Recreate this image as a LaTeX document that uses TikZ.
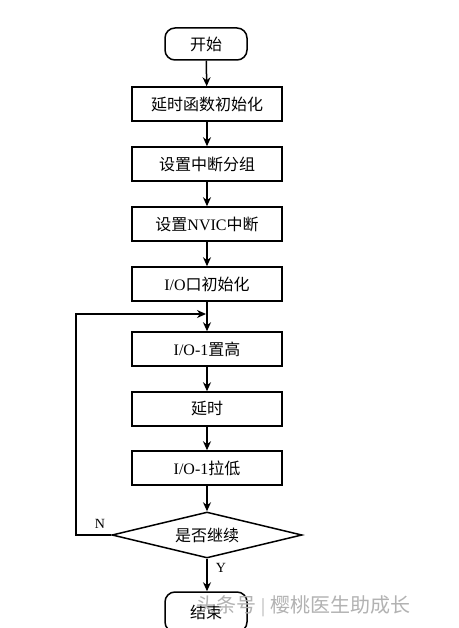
\documentclass[tikz,border=0pt]{standalone}
\usepackage{fontspec}
\setmainfont{Liberation Serif}
\newfontfamily\cjk{Noto Sans CJK SC}
\usetikzlibrary{shapes.geometric,arrows.meta}
\tikzset{
  base/.style={draw=black, line width=1.5pt, font=\fontsize{16}{18}\selectfont, inner sep=0pt},
  procbox/.style={base, rectangle, minimum width=150pt, minimum height=34pt},
  termbox/.style={base, rectangle, rounded corners=10pt, minimum width=82pt, minimum height=32pt},
  decbox/.style={base, diamond, aspect=4, minimum width=190pt, minimum height=46pt},
  arr/.style={line width=1.5pt, -{Stealth[length=9pt,width=8pt]}},
  lbl/.style={font=\fontsize{14}{16}\selectfont, inner sep=0pt},
}
\begin{document}
\begin{tikzpicture}[x=1pt,y=-1pt]
\useasboundingbox (0,0) rectangle (458,628);
\fill[white] (0,0) rectangle (458,628);
\clip (0,0) rectangle (458,628);
\node[termbox] (start) at (206,44) {\cjk 开始};
\node[procbox] (b1) at (207,104) {\cjk 延时函数初始化};
\node[procbox] (b2) at (207,164) {\cjk 设置中断分组};
\node[procbox] (b3) at (207,224) {{\cjk 设置}NVIC{\cjk 中断}};
\node[procbox] (b4) at (207,284) {I/O{\cjk 口初始化}};
\node[procbox] (b5) at (207,349) {I/O-1{\cjk 置高}};
\node[procbox] (b6) at (207,409) {\cjk 延时};
\node[procbox] (b7) at (207,468) {I/O-1{\cjk 拉低}};
\node[decbox] (dec) at (207,535) {\cjk 是否继续};
\node[termbox, minimum height=40pt] (end) at (206,612) {\cjk 结束};
\coordinate (merge) at (206,314);
\coordinate (lc) at (76,535);
\draw[arr] (start) -- (b1);
\draw[arr] (b1) -- (b2);
\draw[arr] (b2) -- (b3);
\draw[arr] (b3) -- (b4);
\draw[arr] (b4) -- (b5);
\draw[arr] (b5) -- (b6);
\draw[arr] (b6) -- (b7);
\draw[arr] (b7) -- (dec);
\draw[arr] (dec.south) -- (end.north -| dec.south);
\draw[arr] (dec.west) -- (lc) |- (merge);
\node[lbl] (nl) at (100,524) {N};
\node[lbl] (yl) at (221,568) {Y};
\node[font=\fontsize{20}{22}\selectfont, text=gray!60, anchor=west, inner sep=0pt] (wm) at (196,606) {{\cjk 头条号} | {\cjk 樱桃医生助成长}};
\end{tikzpicture}
\end{document}
